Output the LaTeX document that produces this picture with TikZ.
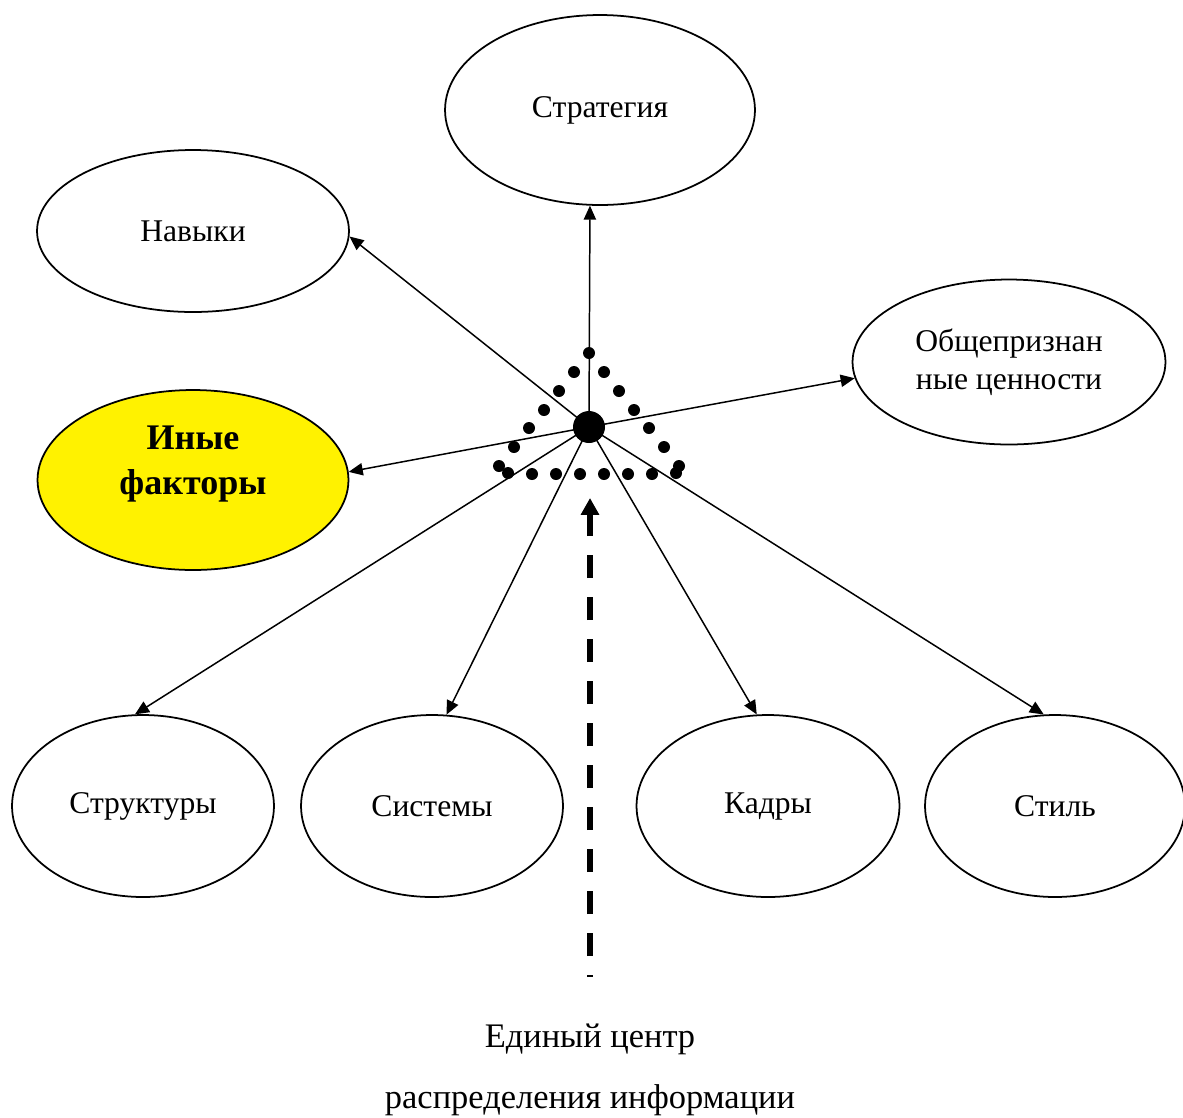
\documentclass[tikz,border=0pt]{standalone}
\usepackage{fontspec}
\setmainfont{Liberation Serif}
\usepackage{tikz}
\usetikzlibrary{
  arrows.meta,
  shapes.geometric,
}
\tikzstyle{factor} = [
  ellipse,
  draw,
  line width=1pt,
  inner sep=0pt,
  align=center,
  font=\fontsize{18}{21.5}\selectfont,
]
\tikzstyle{link} = [
  -{Triangle[length=8pt,width=7pt]},
  line width=0.85pt,
]
\tikzstyle{feed} = [
  -{Triangle[length=9.6pt,width=10pt]},
  line width=3.8pt,
  dash pattern=on 0.46cm off 0.38cm,
  dash phase=0.42cm,
]

\begin{document}
\begin{tikzpicture}[x=0.02cm, y=-0.02cm]
    \useasboundingbox (0,0) rectangle (1183,1117);
    \node [factor, minimum width=6.2cm, minimum height=3.8cm] (strategy) at (600,110) {Стратегия};
    \node [factor, minimum width=6.24cm, minimum height=3.24cm] (skills) at (193,231) {Навыки};
    \node [factor, minimum width=6.26cm, minimum height=3.3cm] (values) at (1009,362) {Общепризнан\\ные ценности};
    \node [factor, minimum width=6.22cm, minimum height=3.6cm, fill=yellow, text depth=0.78cm,
      font=\fontsize{20.5}{25.5}\selectfont\bfseries] (other) at (193,480) {Иные\\факторы};
    \node [factor, minimum width=5.24cm, minimum height=3.64cm] (structures) at (143,806) {Структуры};
    \node [factor, minimum width=5.24cm, minimum height=3.64cm] (systems) at (432,806) {Системы};
    \node [factor, minimum width=5.26cm, minimum height=3.64cm] (staff) at (768,806) {Кадры};
    \node [factor, minimum width=5.2cm, minimum height=3.64cm] (style) at (1055,806) {Стиль};

    \foreach \px/\py in {589/353, 574/372, 559/391, 544/410, 529/428, 514/447, 499/466, 508/473,
        532/474, 556/474, 580/474, 604/474, 628/474, 652/474, 676/473,
        604/372, 619/391, 634/410, 649/428, 664/447, 679/466}
      \fill (\px,\py) circle (0.12cm);

    \node [circle, fill=black, minimum size=0.64cm, inner sep=0pt] (hub) at (589,427) {};
    \foreach \target/\angle in {strategy/264, skills/-2, values/186, other/3,
        structures/95, systems/81, staff/97, style/97}
      \draw [link] (hub.center) -- (\target.\angle);

    \coordinate (source) at (590,977);
    \coordinate (sink) at (590,498);
    \draw [feed] (source) -- (sink);
    \node [font=\fontsize{19.6}{35}\selectfont, align=center] (label) at (590,1070)
      {Единый центр\\распределения информации};
\end{tikzpicture}
\end{document}
